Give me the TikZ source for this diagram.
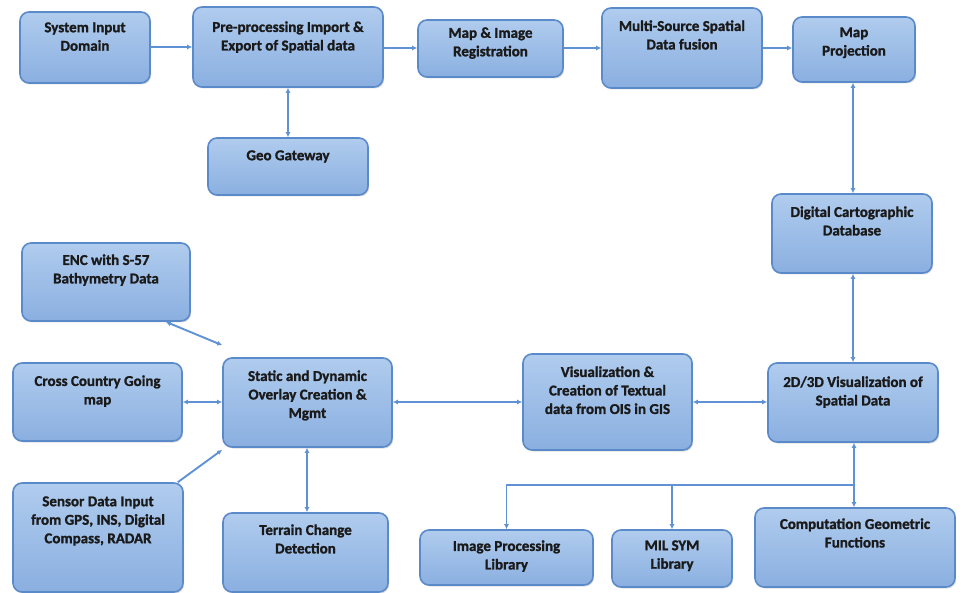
\documentclass[tikz,border=0pt]{standalone}
\usepackage{fontspec}
\setmainfont{Carlito}
\newfontfamily\lblfont{Carlito}[FakeBold=1.3]
\usetikzlibrary{arrows.meta,shadows}
\definecolor{boxtop}{HTML}{B0CCEE}
\definecolor{boxbot}{HTML}{8AAFE0}
\definecolor{boxline}{HTML}{5B8ACA}
\definecolor{conncol}{HTML}{5F92D4}
\definecolor{txtcol}{HTML}{1A1A1A}
\tikzset{
  box/.style={draw=boxline, line width=1.6pt, rounded corners=9pt,
    top color=boxtop, bottom color=boxbot, inner sep=0pt,
    drop shadow={shadow xshift=1.2pt, shadow yshift=-1.5pt, opacity=0.25}},
  lbl/.style={inner sep=0pt, align=center, text=txtcol,
    font=\lblfont\fontsize{15}{18.5}\selectfont\bfseries},
  conn/.style={draw=conncol, line width=1.9pt},
}
\newcommand{\mybox}[7]{%
  \node[box, minimum width=#4pt, minimum height=#5pt] (#1) at (#2,#3) {};
  \node[lbl, anchor=north] (#1-t) at ([yshift=-#6pt]#1.north) {#7};}
\begin{document}
\begin{tikzpicture}[x=1pt,y=-1pt,
  >={Latex[length=5pt,width=5pt]}]
\useasboundingbox[fill=white] (0,0) rectangle (966,593);
% top row
\mybox{sys}{85}{47.5}{130}{71}{11}{System Input\\Domain}
\mybox{pre}{288}{47}{190}{80}{15}{Pre-processing Import \&\\Export of Spatial data}
\mybox{reg}{490.5}{48.5}{145}{57}{8}{Map \& Image\\Registration}
\mybox{fus}{682}{48}{160}{80}{13}{Multi-Source Spatial\\Data fusion}
\mybox{proj}{854}{49.5}{122}{65}{11}{Map\\Projection}
\mybox{geo}{288}{166.5}{160}{57}{13}{Geo Gateway}
\mybox{dcd}{852}{233.5}{160}{79}{13}{Digital Cartographic\\Database}
% left
\mybox{enc}{106}{282}{168}{78}{12}{ENC with S-57\\Bathymetry Data}
\mybox{ccg}{97.5}{402}{169}{78}{13}{Cross Country Going\\map}
\mybox{sen}{98}{537.5}{170}{109}{14}{Sensor Data Input\\from GPS, INS, Digital\\Compass, RADAR}
\mybox{sta}{307.5}{402.5}{169}{89}{13}{Static and Dynamic\\Overlay Creation \&\\Mgmt}
\mybox{ter}{305.5}{552.5}{165}{79}{12}{Terrain Change\\Detection}
% right
\mybox{vis}{607.5}{402}{169}{96}{13}{Visualization \&\\Creation of Textual\\data from OIS in GIS}
\mybox{v3d}{853}{402.5}{170}{79}{14}{2D/3D Visualization of\\Spatial Data}
\mybox{imp}{506.5}{557.5}{173}{55}{11}{Image Processing\\Library}
\mybox{mil}{672}{558.5}{120}{57}{11}{MIL SYM\\Library}
\mybox{cgf}{855}{547.5}{200}{79}{11}{Computation Geometric\\Functions}
% connectors
\draw[conn,->] (sys.east |- 0,47) -- (pre.west |- 0,47);
\draw[conn,->] (pre.east |- 0,48) -- (reg.west |- 0,48);
\draw[conn,->] (reg.east |- 0,48) -- (fus.west |- 0,48);
\draw[conn,->] (fus.east |- 0,48) -- (proj.west |- 0,48);
\draw[conn,<->] (pre.south) -- (geo.north);
\draw[conn,<->] (proj.south -| 853,0) -- (dcd.north -| 853,0);
\draw[conn,<->] (dcd.south -| 853,0) -- (v3d.north -| 853,0);
\draw[conn,<->] ([xshift=-25pt]enc.south east) -- ([yshift=12pt]sta.north west);
\draw[conn,<->] (ccg.east |- 0,402) -- (sta.west |- 0,402);
\draw[conn,->] ([xshift=-6pt]sen.north east) -- ([yshift=-2pt]sta.south west);
\draw[conn,<->] (sta.south -| 307,0) -- (ter.north -| 307,0);
\draw[conn,<->] (sta.east |- 0,402) -- (vis.west |- 0,402);
\draw[conn,<->] (vis.east |- 0,402) -- (v3d.west |- 0,402);
\draw[conn,<->] (v3d.south -| 854,0) -- (cgf.north -| 854,0);
\coordinate (bus) at (854,485);
\draw[conn,->] (bus) -| (imp.north);
\draw[conn,->] (bus -| mil.north) -- (mil.north);
\end{tikzpicture}
\end{document}
